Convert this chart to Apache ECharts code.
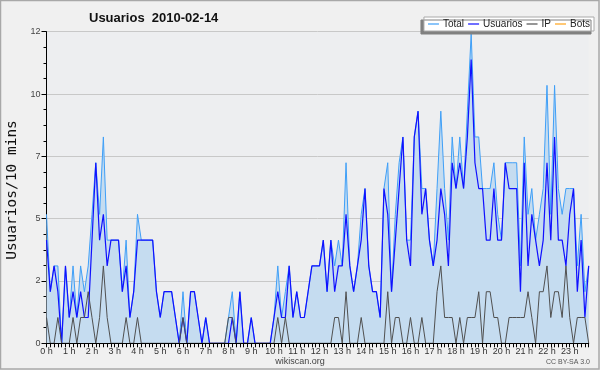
<!DOCTYPE html>
<html>
<head>
<meta charset="utf-8">
<script src="https://cdn.jsdelivr.net/npm/echarts@6/dist/echarts.min.js"></script>
<style>
html,body{margin:0;padding:0;background:#f0f0f0;}
#chart{width:600px;height:370px;}
</style>
</head>
<body>
<div id="chart"></div>
<script>
var hourLabels = ['0 h','1 h','2 h','3 h','4 h','5 h','6 h','7 h','8 h','9 h','10 h','11 h','12 h','13 h','14 h','15 h','16 h','17 h','18 h','19 h','20 h','21 h','22 h','23 h'];
var usuarios = [4,2,3,2,0,3,1,2,1,2, 1,1,4,7,4,5,3,4,4,4, 2,3,1,2,4,4,4,4,4,2, 1,2,2,2,1,0,1,0,2,2,
  1,0,1,0,0,0,0,0,0,1, 0,2,0,0,1,0,0,0,0,0, 1,2,1,1,3,1,2,1,1,2, 3,3,3,4,2,4,2,3,3,5,
  3,2,3,4,6,3,2,2,1,6, 5,2,4,6,8,4,3,8,9,5, 6,4,3,4,6,5,3,7,6,7, 6,8,11,7,6,6,4,4,6,4,
  4,7,6,6,6,2,7,3,5,4, 3,4,7,4,8,4,4,3,5,6, 2,4,1,3];
var ip = [1,0,0,1,0,0,0,1,0,1, 1,2,1,0,1,3,1,0,0,0, 0,1,0,0,1,0,0,0,0,0, 0,0,0,0,0,0,1,0,0,0,
  0,0,0,0,0,0,0,0,1,1, 0,0,0,0,0,0,0,0,0,0, 0,1,0,1,0,0,0,0,0,0, 0,0,0,0,0,0,1,1,0,2,
  0,0,0,1,0,0,0,0,0,0, 2,0,1,1,0,0,1,0,0,1, 0,0,0,2,3,1,1,1,0,1, 0,1,1,1,2,0,2,2,1,1,
  0,0,1,1,1,1,1,2,1,0, 2,2,3,1,2,2,1,3,1,0, 1,1,1,0];
var total = [5,2,3,3,0,3,1,3,1,3, 2,3,5,7,5,8,4,4,4,4, 2,4,1,2,5,4,4,4,4,2, 1,2,2,2,1,0,2,0,2,2,
  1,0,1,0,0,0,0,0,1,2, 0,2,0,0,1,0,0,0,0,0, 1,3,1,2,3,1,2,1,1,2, 3,3,3,4,2,4,3,4,3,7,
  3,2,3,5,6,3,2,2,1,6, 7,2,5,7,8,4,4,8,9,6, 6,4,3,6,9,6,4,8,6,8, 6,9,12,8,8,6,6,6,7,5,
  4,7,7,7,7,3,8,5,6,4, 5,6,10,5,10,6,5,6,6,6, 3,5,2,3];
var bots = [0,0,0,0,0,0,0,0,0,0, 0,0,0,0,0,0,0,0,0,0, 0,0,0,0,0,0,0,0,0,0, 0,0,0,0,0,0,0,0,0,0,
  0,0,0,0,0,0,0,0,0,0, 0,0,0,0,0,0,0,0,0,0, 0,0,0,0,0,0,0,0,0,0, 0,0,0,0,0,0,0,0,0,0,
  0,0,0,0,0,0,0,0,0,0, 0,0,0,0,0,0,0,0,0,0, 0,0,0,0,0,0,0,0,0,0, 0,0,0,0,0,0,0,0,0,0,
  0,0,0,0,0,0,0,0,0,0, 0,0,0,0,0,0,0,0,0,0, 0,0,0,0];
var slotsPerHour = 6;
var yMax = 12.08;

var categories = [];
for (var h = 0; h < hourLabels.length; h++) {
  for (var m = 0; m < slotsPerHour; m++) {
    categories.push(m === 0 ? hourLabels[h] : hourLabels[h] + ' ' + (m * 10));
  }
}

var chart = echarts.init(document.getElementById('chart'), null, {renderer: 'canvas'});
var font = 'Liberation Sans';
chart.setOption({
  backgroundColor: '#f0f0f0',
  animation: false,
  title: {
    text: 'Usuarios  2010-02-14',
    left: 84, top: 7,
    textStyle: {fontFamily: font, fontSize: 13, fontWeight: 'bold', color: '#111'}
  },
  legend: {
    right: 6, top: 17,
    orient: 'horizontal',
    data: ['Total', 'Usuarios', 'IP', 'Bots'],
    icon: 'rect',
    itemWidth: 11, itemHeight: 1.2,
    itemGap: 4,
    padding: [2, 4, 2, 4],
    backgroundColor: '#ffffff',
    borderColor: '#aaaaaa', borderWidth: 1,
    shadowColor: '#808080', shadowBlur: 0, shadowOffsetX: -3, shadowOffsetY: 3,
    textStyle: {fontFamily: font, fontSize: 10, color: '#222', padding: [0, 0, 0, -1]}
  },
  grid: {left: 46.5, right: 11.3, top: 31.7, bottom: 26.7, show: true, backgroundColor: '#edeef0', borderWidth: 0},
  xAxis: {
    type: 'category',
    data: categories,
    boundaryGap: false,
    z: 10,
    axisLine: {lineStyle: {color: '#000', width: 1}},
    axisTick: {show: true, interval: 0, length: 4, lineStyle: {color: '#000'}},
    axisLabel: {
      interval: slotsPerHour - 1,
      fontFamily: font, fontSize: 9, color: '#333', margin: 4,
      formatter: function (v) { return v.indexOf(' h ') > -1 ? '' : v; }
    },
    splitLine: {show: false}
  },
  yAxis: {
    type: 'value',
    min: 0, max: yMax, interval: yMax / 5,
    axisLine: {show: true, lineStyle: {color: '#000', width: 1}},
    axisTick: {show: true, length: 5, lineStyle: {color: '#000'}},
    minorTick: {show: true, splitNumber: 4, length: 3, lineStyle: {color: '#000'}},
    axisLabel: {
      fontFamily: font, fontSize: 9, color: '#444', margin: 6,
      formatter: function (v) { return String(Math.round(v)); }
    },
    splitLine: {show: true, lineStyle: {color: '#c8c8c8', width: 1}}
  },
  graphic: [
    {type: 'rect', silent: true, z: -10, shape: {x: 0.5, y: 0.5, width: 598.5, height: 368.5},
      style: {fill: 'none', stroke: '#a8a8a8', lineWidth: 1.5}},
    {type: 'text', x: 12, y: 190, rotation: Math.PI / 2,
      style: {text: 'Usuarios/10 mins', fontFamily: 'DejaVu Sans Mono', fontSize: 14.5, fill: '#111', align: 'center', verticalAlign: 'middle'}},
    {type: 'text', x: 300, y: 362,
      style: {text: 'wikiscan.org', fontFamily: font, fontSize: 9, fill: '#444', align: 'center', verticalAlign: 'middle'}},
    {type: 'text', x: 590, y: 362,
      style: {text: 'CC BY-SA 3.0', fontFamily: font, fontSize: 7, fill: '#555', align: 'right', verticalAlign: 'middle'}}
  ],
  series: [
    {name: 'Total', type: 'line', data: total, symbol: 'none', z: 2,
      lineStyle: {color: '#3f9ff7', width: 1}, itemStyle: {color: '#3f9ff7'},
      areaStyle: {color: '#c5dcf0', opacity: 1}},
    {name: 'Usuarios', type: 'line', data: usuarios, symbol: 'none', z: 3,
      lineStyle: {color: '#1010ff', width: 1.2}, itemStyle: {color: '#1010ff'}},
    {name: 'IP', type: 'line', data: ip, symbol: 'none', z: 4,
      lineStyle: {color: '#505050', width: 1}, itemStyle: {color: '#505050'}},
    {name: 'Bots', type: 'line', data: bots, symbol: 'none', z: 1,
      lineStyle: {color: '#ffa31a', width: 1}, itemStyle: {color: '#ffa31a'}}
  ]
});
</script>
</body>
</html>
